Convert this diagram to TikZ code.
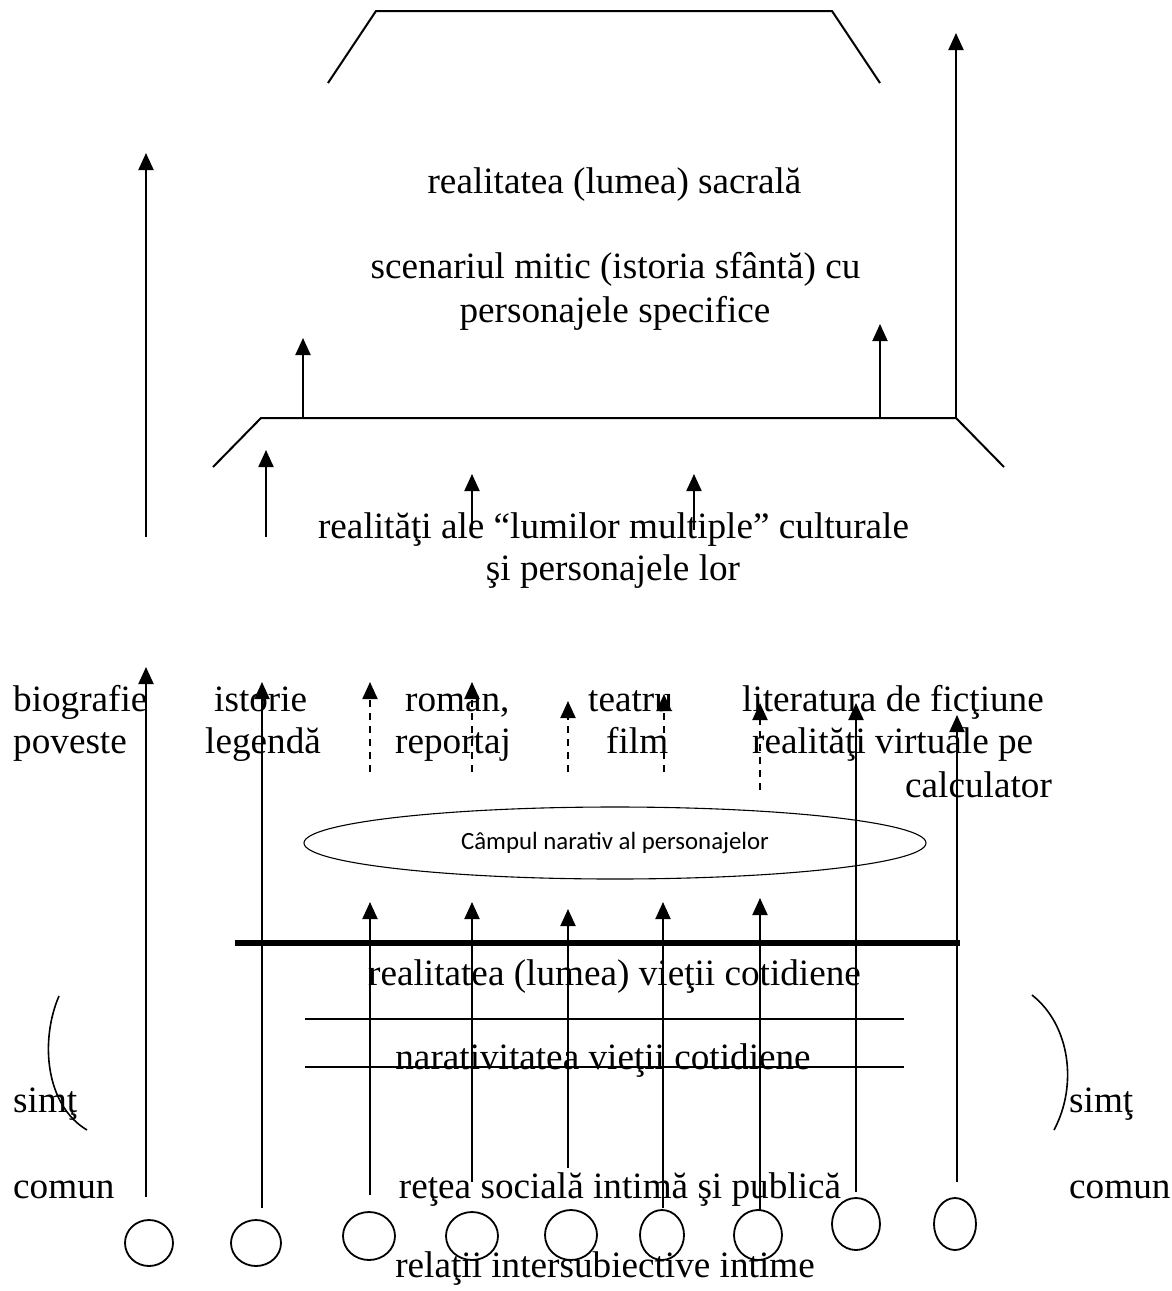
\documentclass[tikz,border=0pt]{standalone}
\usepackage{fontspec}
\setmainfont{Liberation Serif}
\newfontfamily\calibrifont{Carlito}
\usetikzlibrary{arrows.meta,shapes.geometric}

\begin{document}
\begin{tikzpicture}[x=1pt,y=-1pt,
  ln/.style={line width=2pt},
  arr/.style={line width=2pt,-{Triangle[width=15pt,length=17pt]}},
  darr/.style={arr,dash pattern=on 7pt off 6pt},
  lbl/.style={inner sep=0pt,font=\fontsize{37.2}{40}\selectfont},
  lblw/.style={lbl,anchor=base west},
  lblc/.style={lbl,anchor=base},
  person/.style={draw,ellipse,line width=1.8pt,inner sep=0pt}]

\useasboundingbox (0,0) rectangle (1172,1291);

% sacred world frame
\coordinate (t1) at (328,83);
\coordinate (t2) at (376,11);
\coordinate (t3) at (832,11);
\coordinate (t4) at (880,83);
\draw[ln] (t1) -- (t2) -- (t3) -- (t4);

% cultural worlds frame
\coordinate (m1) at (213,467);
\coordinate (m2) at (261,418);
\coordinate (m3) at (956,418);
\coordinate (m4) at (1004,467);
\draw[ln] (m1) -- (m2) -- (m3) -- (m4);

% upper arrows
\foreach \n/\x/\a/\b in {1/146/537/153, 2/266/537/450, 3/472/530/474,
                         4/694/530/474, 5/303/418/338, 6/880/418/324}
  {\coordinate (ua\n) at (\x,\a); \coordinate (ub\n) at (\x,\b);
   \draw[arr] (ua\n) -- (ub\n);}
\coordinate (ub7) at (956,33);
\draw[arr] (m3) -- (ub7);

% upper texts
\node[lblc] (sacru) at (614.5,193) {realitatea (lumea) sacrală};
\node[lblc] (mit1) at (615.5,278) {scenariul mitic (istoria sfântă) cu};
\node[lblc] (mit2) at (615,322) {personajele specifice};
\node[lblc] (cult1) at (613.5,538) {realităţi ale “lumilor multiple” culturale};
\node[lblc] (cult2) at (613,580) {şi personajele lor};

% genres
\node[lblw] (g1) at (13,711) {biografie};
\node[lblw] (g2) at (214,711) {istorie};
\node[lblw] (g3) at (405,711) {roman,};
\node[lblw] (g4) at (588,711) {teatru};
\node[lblw] (g5) at (742,711) {literatura de ficţiune};
\node[lblw] (h1) at (13,753) {poveste};
\node[lblw] (h2) at (205,753) {legendă};
\node[lblw] (h3) at (395,753) {reportaj};
\node[lblw] (h4) at (606,753) {film};
\node[lblw] (h5) at (752,753) {realităţi virtuale pe};
\node[lblw] (h6) at (905,797) {calculator};

% dashed arrows into the genres
\foreach \n/\x/\a/\b in {1/370/772/682, 2/472/772/682, 3/568/772/701,
                         4/664/772/694, 5/760/790/703}
  {\coordinate (da\n) at (\x,\a); \coordinate (db\n) at (\x,\b);
   \draw[darr] (da\n) -- (db\n);}

% narrative field
\node[draw,ellipse,line width=1.1pt,minimum width=622pt,minimum height=72pt,
      inner sep=0pt,font=\calibrifont\fontsize{24.8}{28}\selectfont]
  (camp) at (615,843) {Câmpul narativ al personajelor};

% everyday life
\coordinate (k1) at (235,943);
\coordinate (k2) at (960,943);
\draw[line width=6pt] (k1) -- (k2);
\node[lblc] (cot) at (614.5,985) {realitatea (lumea) vieţii cotidiene};
\coordinate (n1) at (305,1019);
\coordinate (n2) at (904,1019);
\coordinate (n3) at (305,1067);
\coordinate (n4) at (904,1067);
\draw[ln] (n1) -- (n2);
\draw[ln] (n3) -- (n4);
\node[lblc] (narat) at (603,1069) {narativitatea vieţii cotidiene};

% common sense brackets
\coordinate (pl1) at (59,996);
\coordinate (pl2) at (87,1130);
\draw[line width=1.6pt] (pl1) .. controls (40,1040) and (45,1105) .. (pl2);
\coordinate (pr1) at (1032,995);
\coordinate (pr2) at (1054,1130);
\draw[line width=1.6pt] (pr1) .. controls (1070,1025) and (1078,1085) .. (pr2);
\node[lblw] (s1) at (13,1112) {simţ};
\node[lblw] (c1) at (13,1198) {comun};
\node[lblw] (s2) at (1069,1112) {simţ};
\node[lblw] (c2) at (1069,1198) {comun};

\node[lblc] (retea) at (620,1198) {reţea socială intimă şi publică};
\node[lblc] (rel) at (605,1277) {relaţii intersubiective intime};

% persons
\foreach \n/\x/\y/\rx/\ry in {1/149/1243/24/23, 2/256/1243/25/23, 3/369/1236/26/24,
                              4/472/1236/26/24, 5/571/1235/26/25, 6/662/1235/22/25,
                              7/758/1235/24/25, 8/856/1224/24/26, 9/955/1224/21/26}
  {\node[person,minimum width=2*\rx pt,minimum height=2*\ry pt] (p\n) at (\x,\y) {};}

% arrows rising from the persons
\foreach \n/\x/\a/\b in {1/146/1197/667, 2/262/1208/682, 3/370/1195/902,
                         4/472/1182/902, 5/568/1168/909, 6/663/1208/902,
                         7/760/1210/898, 8/856/1192/703, 9/957/1182/715}
  {\coordinate (la\n) at (\x,\a); \coordinate (lb\n) at (\x,\b);
   \draw[arr] (la\n) -- (lb\n);}

\end{tikzpicture}
\end{document}
